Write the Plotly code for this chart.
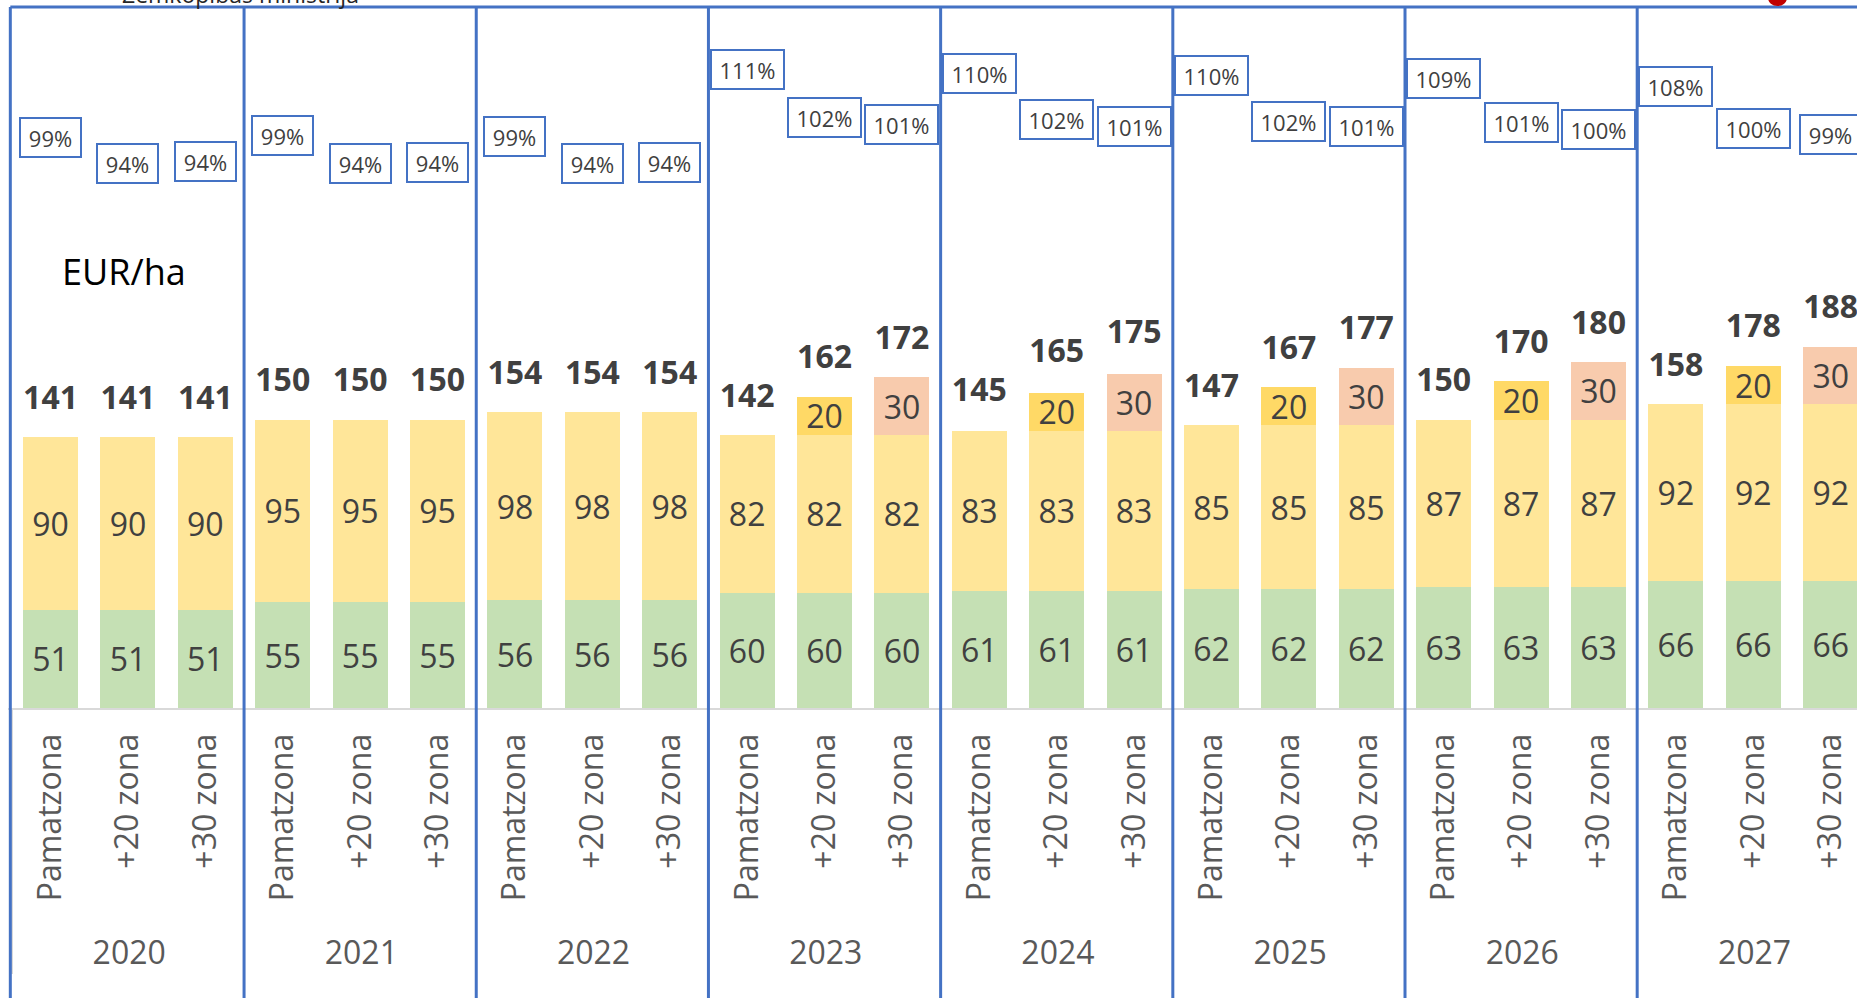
import plotly.graph_objects as go

# ---------------- data ----------------
years = ["2020", "2021", "2022", "2023", "2024", "2025", "2026", "2027"]
zones = ["Pamatzona", "+20 zona", "+30 zona"]

base_payment = [51, 51, 51, 55, 55, 55, 56, 56, 56, 60, 60, 60,
                61, 61, 61, 62, 62, 62, 63, 63, 63, 66, 66, 66]
extra_payment = [90, 90, 90, 95, 95, 95, 98, 98, 98, 82, 82, 82,
                 83, 83, 83, 85, 85, 85, 87, 87, 87, 92, 92, 92]
zone_supplement = [0, 0, 0, 0, 0, 0, 0, 0, 0, 0, 20, 30,
                   0, 20, 30, 0, 20, 30, 0, 20, 30, 0, 20, 30]
totals = [141, 141, 141, 150, 150, 150, 154, 154, 154, 142, 162, 172,
          145, 165, 175, 147, 167, 177, 150, 170, 180, 158, 178, 188]
percent = [98.6, 93.8, 94.2, 98.9, 93.8, 93.9, 98.7, 93.8, 93.9,
           111.0, 102.3, 101.0, 110.4, 101.9, 100.6, 110.0, 101.6, 100.6,
           109.4, 101.3, 100.1, 107.9, 100.3, 99.2]

# ---------------- styles ----------------
FONT = "Open Sans"
C_GREEN = "#C5E0B4"
C_YELLOW = "#FFE699"
C_ZONE = {"Pamatzona": "rgba(0,0,0,0)", "+20 zona": "#FFD966", "+30 zona": "#F8CBAD"}
C_TEXT = "#404040"
C_AXIS = "#595959"
C_BLUE = "#4472C4"

# leading non-collapsing spaces only pad label boxes (fine-tune label placement)
PAD = "\u00a0\u2009"
x_outer = [PAD + y for y in years for z in zones]
pad_label = {"Pamatzona": PAD + "Pamatzona"}
x_inner = [pad_label.get(z, z) for y in years for z in zones]
zone_of_bar = [z for y in years for z in zones]
x_mc = [x_outer, x_inner]

fig = go.Figure()

seg_text = dict(size=32, color=C_TEXT, family=FONT)
fig.add_trace(go.Bar(x=x_mc, y=base_payment, text=base_payment,
                     marker=dict(color=C_GREEN, line=dict(width=0)),
                     textposition="inside", insidetextanchor="middle", textangle=0,
                     textfont=seg_text, hoverinfo="skip"))
fig.add_trace(go.Bar(x=x_mc, y=extra_payment, text=extra_payment,
                     marker=dict(color=C_YELLOW, line=dict(width=0)),
                     textposition="inside", insidetextanchor="middle", textangle=0,
                     textfont=seg_text, hoverinfo="skip"))
supp_vals = [v if v else None for v in zone_supplement]
fig.add_trace(go.Bar(x=x_mc, y=supp_vals, text=[v if v else "" for v in zone_supplement],
                     marker=dict(color=[C_ZONE[z] for z in zone_of_bar], line=dict(width=0)),
                     textposition="inside", insidetextanchor="middle", textangle=0,
                     textfont=seg_text, hoverinfo="skip"))
fig.add_trace(go.Scatter(x=x_mc, y=totals, mode="markers+text",
                         text=[f"<b>{t}</b>" for t in totals],
                         textposition="top center",
                         textfont=dict(size=32, color=C_TEXT, family=FONT),
                         marker=dict(size=31, opacity=0),
                         cliponaxis=False, hoverinfo="skip"))

# percent boxes
annotations = []
for i, p in enumerate(percent):
    label = f"{p:.0f}%"
    annotations.append(dict(x=i, y=p, xref="x", yref="y2", text=label, showarrow=False,
                            font=dict(size=22, color=C_TEXT, family=FONT),
                            bordercolor=C_BLUE, borderwidth=2, borderpad=3,
                            bgcolor="white", width=12 * len(label) + 17, height=31))

annotations.append(dict(x=0.0627, y=0.622, xref="paper", yref="paper", text="EUR/ha",
                        xanchor="center", yanchor="middle", showarrow=False,
                        font=dict(size=36, color="black", family=FONT)))
annotations.append(dict(x=0.1255, y=0.9934, xref="paper", yref="paper",
                        text="Zemkopības ministrija", showarrow=False,
                        xanchor="center", yanchor="bottom",
                        font=dict(size=23, color="#262626", family=FONT)))

# blue frame lines at the year boundaries
shapes = []
n_z = len(zones)
bounds = [-0.52] + [k * n_z - 0.5 for k in range(1, len(years))]
for b in bounds:
    shapes.append(dict(type="line", xref="x", yref="paper", x0=b, x1=b, y0=1, y1=-0.5,
                       line=dict(color=C_BLUE, width=3), layer="above"))
shapes.append(dict(type="line", xref="x", yref="paper", x0=-0.52, x1=len(x_inner) + 1,
                   y0=1, y1=1, line=dict(color=C_BLUE, width=3), layer="above"))
shapes.append(dict(type="circle", xref="paper", yref="paper", x0=0.9519, x1=0.9621,
                   y0=1.0014, y1=1.024, fillcolor="#C00000", line=dict(width=0)))

fig.update_layout(
    width=1857, height=998,
    margin=dict(l=8, r=0, t=7, b=290, pad=0),
    paper_bgcolor="white", plot_bgcolor="white",
    barmode="stack", bargap=0.29,
    showlegend=False,
    font=dict(family=FONT, color=C_TEXT),
    uniformtext=dict(mode="show", minsize=32),
    annotations=annotations, shapes=shapes,
    xaxis=dict(type="multicategory", range=[-0.55, 23.34],
               tickangle=-90, tickfont=dict(size=32, color=C_AXIS, family=FONT),
               showline=True, linecolor="#D9D9D9", linewidth=2,
               showdividers=True, dividercolor="#D9D9D9", dividerwidth=2,
               ticks="", ticklabelstandoff=11, showgrid=False, zeroline=False),
    yaxis=dict(range=[0, 364.7], visible=False),
    yaxis2=dict(range=[-6.39, 122.59], overlaying="y", visible=False),
)

fig.write_html("out.html", config={"displayModeBar": False},
               post_script="document.body.style.margin='0';document.body.style.overflow='hidden';")
